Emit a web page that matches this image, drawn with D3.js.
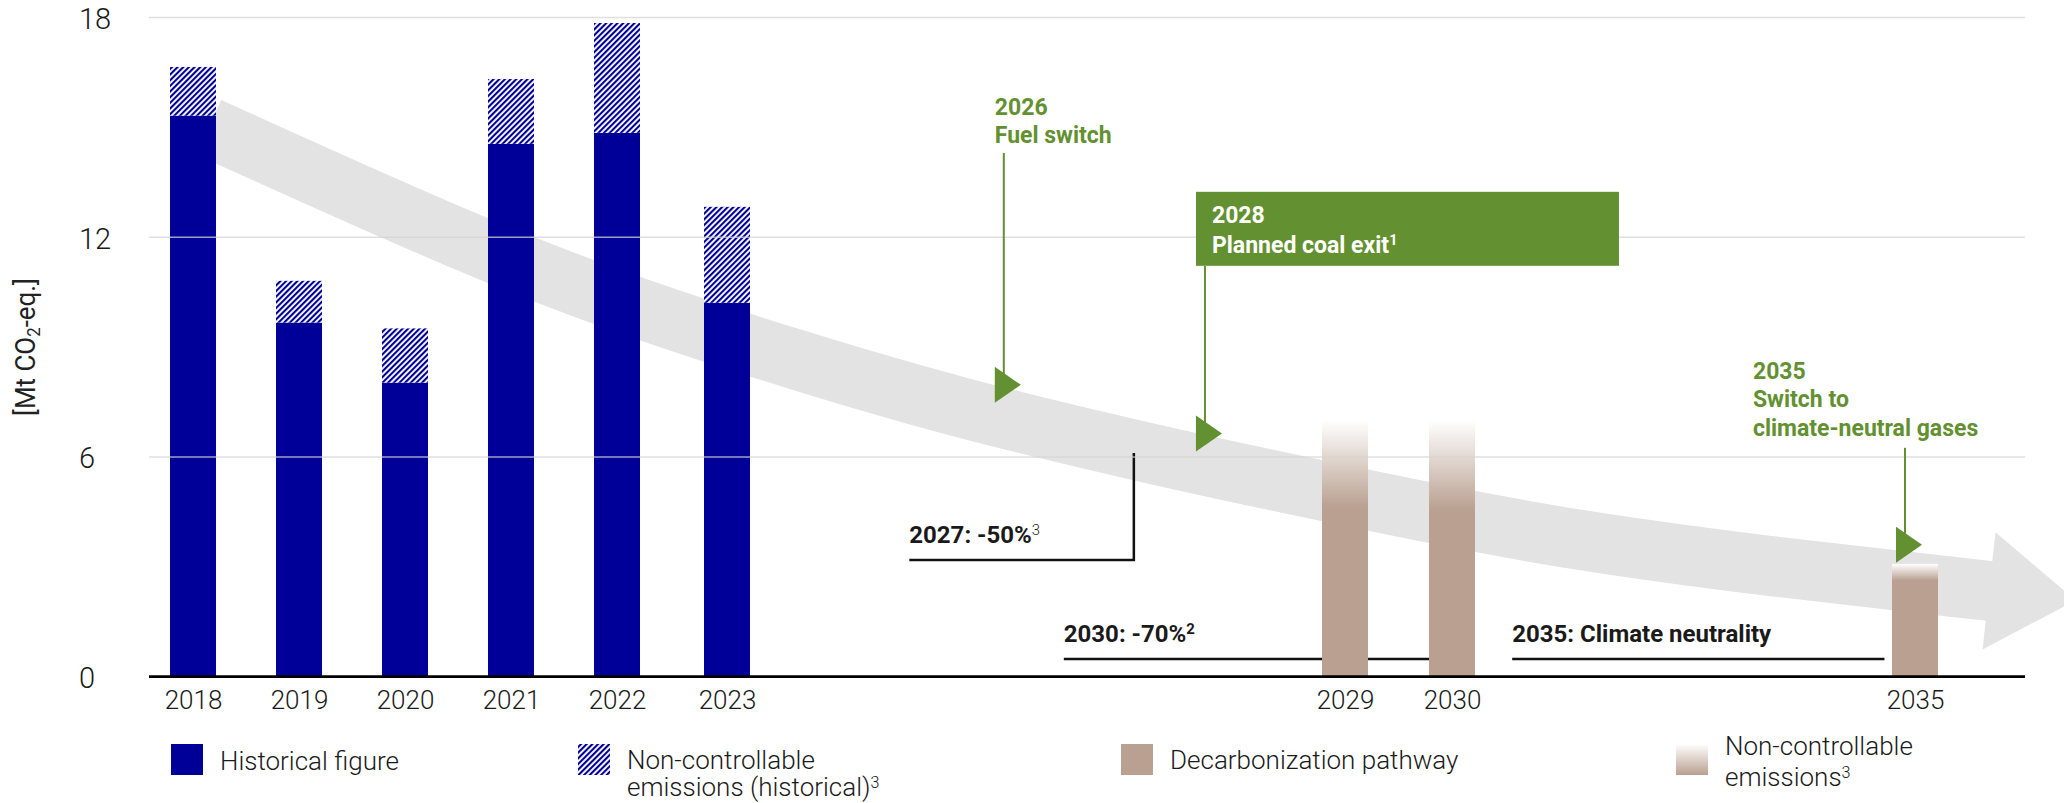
<!DOCTYPE html>
<html><head><meta charset="utf-8">
<script src="https://cdn.jsdelivr.net/npm/d3@7"></script>
<style>
html,body{margin:0;padding:0;background:#fff;}
svg{display:block;}
text{font-family:Roboto,"Noto Sans",sans-serif;}
</style></head><body>
<svg id="chart" width="2064" height="803"></svg>
<script>
// ---------- data ----------
const histYears = [2018, 2019, 2020, 2021, 2022, 2023];
const histBase  = [15.32, 9.67, 8.03, 14.55, 14.85, 10.21];   // historical figure
const histTotal = [16.65, 10.81, 9.51, 16.32, 17.85, 12.83];  // incl. non-controllable (hatched)
const pathYears = [2029, 2030, 2035];
const pathBase  = [4.63, 4.55, 2.64];                          // decarbonization pathway
const pathTotal = [7.0, 7.0, 3.08];                            // incl. non-controllable (gradient)
const tickYears = [2018, 2019, 2020, 2021, 2022, 2023, 2029, 2030, 2035];
const yTicks = [0, 6, 12, 18];
const yTitle = "[Mt CO";
const trendYears  = [2018.15, 2020.71, 2022.21, 2023.71, 2025.17, 2027.11, 2029.18, 2031.06, 2033.40, 2035.81];
const trendValues = [15.0, 11.65, 10.01, 8.61, 7.39, 6.07, 4.83, 3.81, 3.01, 2.34];
const milestones = [
  {lines: ["2026", "Fuel switch"], year: 2025.60, value: 7.97, textValue: 15.34, lineTop: 14.30, boxed: false},
  {lines: ["2028", "Planned coal exit^1"], year: 2027.553, value: 6.64, boxTop: 13.24, boxBottom: 11.22, boxed: true},
  {lines: ["2035", "Switch to", "climate-neutral gases"], year: 2034.795, value: 3.60, textYear: 2033.25, textValue: 8.13, lineTop: 6.25, boxed: false}
];
const targets = [
  {label: "2027: -50%^3", from: 2024.77, to: 2026.95, value: 3.19, tickTop: 6.11, supLight: true},
  {label: "2030: -70%^2", from: 2026.27, to: 2029.79, value: 0.48},
  {label: "2035: Climate neutrality", from: 2030.65, to: 2034.67, value: 0.48}
];
const legendLabels = [["Historical figure"], ["Non-controllable", "emissions (historical)^3"], ["Decarbonization pathway"], ["Non-controllable", "emissions^3"]];

// ---------- setup ----------
const BLUE = "#000099", TAN = "#b9a090", GREEN = "#639030", BAND = "#e3e3e3", INK = "#1a1a1a";
const svg = d3.select("#chart");
const plotLeft = 149, plotRight = 2025, barW = 46;
const y = d3.scaleLinear().domain([0, 18]).range([676.7, 17.5]);
const x = d3.scaleLinear().domain([2018, 2022, 2023, 2029, 2030, 2035]).range([193, 617, 727, 1345, 1452, 1915]);

function rich(sel, str, supWeight) {
  const parts = str.split(/\^(\d)/);
  parts.forEach((p, i) => {
    if (!p) return;
    if (i % 2 === 0) sel.append("tspan").text(p);
    else sel.append("tspan").attr("font-size", "0.62em").attr("dy", "-0.52em").attr("font-weight", supWeight || null).text(p);
  });
}

const defs = svg.append("defs");
const pat = defs.append("pattern").attr("id", "hatch").attr("patternUnits", "userSpaceOnUse")
  .attr("width", 4).attr("height", 4).attr("patternTransform", "rotate(45)");
pat.append("rect").attr("width", 4).attr("height", 4).attr("fill", "#fff");
pat.append("rect").attr("width", 2.1).attr("height", 4).attr("fill", BLUE);
const grad = defs.append("linearGradient").attr("id", "ncgrad").attr("x1", 0).attr("y1", 0).attr("x2", 0).attr("y2", 1);
grad.append("stop").attr("offset", "0%").attr("stop-color", "#ffffff");
grad.append("stop").attr("offset", "100%").attr("stop-color", TAN);

// ---------- trend band (arrow) ----------
const trendPts = trendYears.map((t, i) => [x(t), y(trendValues[i])]);
const gBand = svg.append("g");
gBand.append("path").attr("d", d3.line().curve(d3.curveBasis)(trendPts))
  .attr("fill", "none").attr("stroke", BAND).attr("stroke-width", 60);
{
  const n = trendPts.length, P = trendPts[n - 1], Q = trendPts[n - 2];
  let dx = P[0] - Q[0], dy = P[1] - Q[1];
  const L = Math.hypot(dx, dy); dx /= L; dy /= L;
  const nx = -dy, ny = dx, hw = 59, len = 86;
  const b = [P[0] - dx, P[1] - dy];
  gBand.append("path")
    .attr("d", `M${b[0] + nx * hw},${b[1] + ny * hw}L${P[0] + dx * len},${P[1] + dy * len}L${b[0] - nx * hw},${b[1] - ny * hw}Z`)
    .attr("fill", BAND);
}

// ---------- target brackets (black) ----------
const gT = svg.append("g");
targets.forEach(t => {
  const x0 = x(t.from), x1 = x(t.to), yy = y(t.value);
  let d = `M${x0},${yy}H${x1}`;
  if (t.tickTop != null) d += `V${y(t.tickTop)}`;
  gT.append("path").attr("d", d).attr("fill", "none").attr("stroke", "#111").attr("stroke-width", 2.5);
  const tx = gT.append("text").attr("x", x0).attr("y", yy - 17)
    .attr("font-size", 24).attr("font-weight", 700).attr("fill", INK);
  rich(tx, t.label, t.supLight ? 300 : null);
});

// ---------- bars ----------
const gBars = svg.append("g");
gBars.selectAll("rect.hb").data(histYears).join("rect").attr("class", "hb")
  .attr("x", (d) => x(d) - barW / 2).attr("width", barW)
  .attr("y", (d, i) => y(histBase[i])).attr("height", (d, i) => y(0) - y(histBase[i]))
  .attr("fill", BLUE);
gBars.selectAll("rect.hh").data(histYears).join("rect").attr("class", "hh")
  .attr("x", (d) => x(d) - barW / 2).attr("width", barW)
  .attr("y", (d, i) => y(histTotal[i])).attr("height", (d, i) => y(histBase[i]) - y(histTotal[i]))
  .attr("fill", "url(#hatch)");
gBars.selectAll("rect.pb").data(pathYears).join("rect").attr("class", "pb")
  .attr("x", (d) => x(d) - barW / 2).attr("width", barW)
  .attr("y", (d, i) => y(pathBase[i])).attr("height", (d, i) => y(0) - y(pathBase[i]))
  .attr("fill", TAN);
gBars.selectAll("rect.pg").data(pathYears).join("rect").attr("class", "pg")
  .attr("x", (d) => x(d) - barW / 2).attr("width", barW)
  .attr("y", (d, i) => y(pathTotal[i])).attr("height", (d, i) => y(pathBase[i]) - y(pathTotal[i]) + 0.5)
  .attr("fill", "url(#ncgrad)");

// ---------- gridlines (on top) ----------
svg.append("g").selectAll("line").data(yTicks.filter(d => d > 0)).join("line")
  .attr("x1", plotLeft).attr("x2", plotRight).attr("y1", d => y(d)).attr("y2", d => y(d))
  .attr("stroke", "#d4d4d4").attr("stroke-opacity", 0.75).attr("stroke-width", 1.6);

// baseline
svg.append("line").attr("x1", plotLeft).attr("x2", plotRight).attr("y1", y(0)).attr("y2", y(0))
  .attr("stroke", "#000").attr("stroke-width", 2.7);

// ---------- axes ----------
const gx = svg.append("g").attr("transform", `translate(0,${y(0)})`)
  .call(d3.axisBottom(x).tickValues(tickYears).tickFormat(d3.format("d")).tickSize(0).tickPadding(13.5));
gx.select(".domain").remove();
gx.selectAll("text").attr("font-family", "Roboto").attr("font-size", 26).attr("font-weight", 300).attr("fill", INK);

const gy = svg.append("g").attr("transform", "translate(79,0)")
  .call(d3.axisLeft(y).tickValues(yTicks).tickSize(0).tickFormat(d3.format("d")));
gy.select(".domain").remove();
gy.selectAll("text").attr("x", 0).attr("dy", "0.38em").attr("text-anchor", "start")
  .attr("font-family", "Roboto").attr("font-size", 29).attr("font-weight", 300).attr("fill", INK);

const yt = svg.append("text").attr("transform", "translate(35,347) rotate(-90)").attr("text-anchor", "middle")
  .attr("font-family", "'Liberation Sans', Arial, sans-serif").attr("font-size", 27).attr("fill", "#222")
  .attr("textLength", 138).attr("lengthAdjust", "spacingAndGlyphs");
yt.append("tspan").text(yTitle);
yt.append("tspan").attr("font-size", "0.65em").attr("dy", "0.3em").text("2");
yt.append("tspan").attr("dy", "-0.2em").text("-eq.]");

// ---------- milestones (green) ----------
const gM = svg.append("g");
milestones.forEach(m => {
  const left = x(m.year), cy = y(m.value), lx = left + 9;
  let lineTopPx;
  if (m.boxed) {
    const top = y(m.boxTop), bot = y(m.boxBottom);
    gM.append("rect").attr("x", left).attr("y", top).attr("width", 423).attr("height", bot - top).attr("fill", GREEN);
    m.lines.forEach((ln, i) => {
      const t = gM.append("text").attr("x", left + 16).attr("y", top + 31 + i * 30)
        .attr("font-size", 23).attr("font-weight", 700).attr("fill", "#fff");
      rich(t, ln);
    });
    lineTopPx = bot;
  } else {
    const tx = m.textYear != null ? x(m.textYear) : left;
    m.lines.forEach((ln, i) => {
      const t = gM.append("text").attr("x", tx).attr("y", y(m.textValue) + i * 28.5)
        .attr("font-size", 23).attr("font-weight", 700).attr("fill", GREEN);
      rich(t, ln);
    });
    lineTopPx = y(m.lineTop);
  }
  gM.append("line").attr("x1", lx).attr("x2", lx).attr("y1", lineTopPx).attr("y2", cy)
    .attr("stroke", GREEN).attr("stroke-width", 2);
  gM.append("path").attr("d", `M${left},${cy - 18}L${left + 26},${cy}L${left},${cy + 18}Z`).attr("fill", GREEN);
});

// ---------- legend ----------
const legX = [171, 578, 1121, 1676];
const legFill = [BLUE, "url(#hatch)", TAN, "url(#ncgrad)"];
const legBase = [[770], [769, 796], [769], [755, 786]];
const gL = svg.append("g");
legendLabels.forEach((lines, k) => {
  gL.append("rect").attr("x", legX[k]).attr("y", 744).attr("width", 32).attr("height", 31).attr("fill", legFill[k]);
  lines.forEach((ln, i) => {
    const t = gL.append("text").attr("x", legX[k] + 49).attr("y", legBase[k][i])
      .attr("font-size", 26).attr("font-weight", 300).attr("fill", INK);
    rich(t, ln);
  });
});
</script>
</body></html>
